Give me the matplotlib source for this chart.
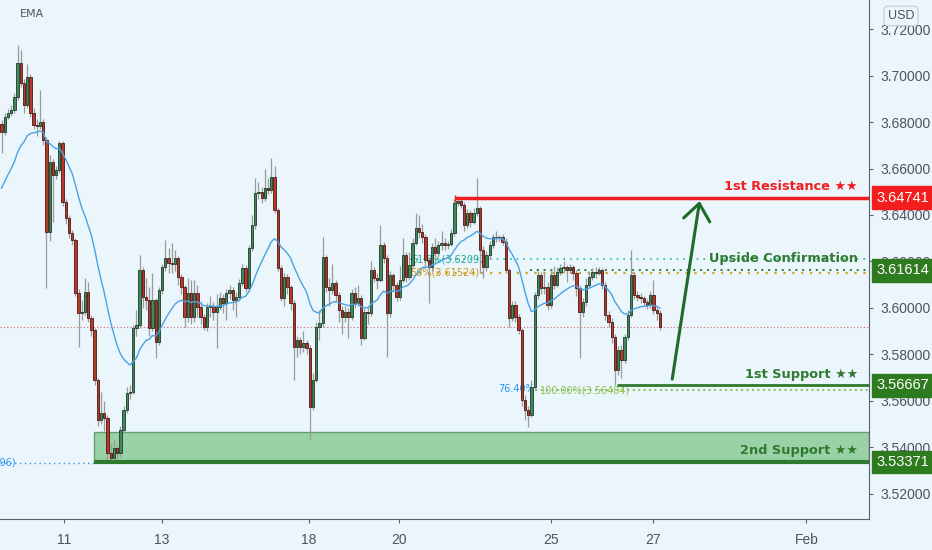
import matplotlib.pyplot as plt
from matplotlib.patches import Rectangle
from matplotlib.transforms import blended_transform_factory

# 2-hour candles (price in USD)
first_open = 3.6790
closes = [
    3.6757, 3.6822, 3.6839, 3.6852, 3.6908, 3.7054, 3.6968, 3.6873, 3.6994, 3.6839,
    3.6787, 3.6783, 3.6800, 3.6723, 3.6327, 3.6628, 3.6572, 3.6594, 3.6710, 3.6456,
    3.6387, 3.6323, 3.6292, 3.6065, 3.5978, 3.5983, 3.6069, 3.5957, 3.5905, 3.5690,
    3.5518, 3.5548, 3.5527, 3.5376, 3.5355, 3.5398, 3.5376, 3.5475, 3.5561, 3.5634,
    3.5639, 3.5914, 3.5927, 3.6163, 3.6047, 3.6034, 3.5914, 3.6034, 3.5854, 3.6077,
    3.6176, 3.6215, 3.6194, 3.6190, 3.6215, 3.6133, 3.6090, 3.5961, 3.6065, 3.5961,
    3.6065, 3.6004, 3.5961, 3.5918, 3.6004, 3.6010, 3.5983, 3.6004, 3.6043, 3.6022,
    3.6065, 3.6077, 3.6034, 3.6047, 3.6108, 3.6172, 3.6086, 3.6258, 3.6357, 3.6495,
    3.6500, 3.6473, 3.6516, 3.6507, 3.6563, 3.6421, 3.6172, 3.6043, 3.6133, 3.6090,
    3.6022, 3.5832, 3.5862, 3.5832, 3.5849, 3.5828, 3.5574, 3.5690, 3.5918, 3.5935,
    3.6219, 3.6090, 3.6077, 3.6108, 3.6056, 3.5991, 3.5961, 3.5983, 3.5961, 3.6065,
    3.6022, 3.6043, 3.5871, 3.5983, 3.5978, 3.6163, 3.6129, 3.6120, 3.6271, 3.6215,
    3.5978, 3.6142, 3.6099, 3.6047, 3.6120, 3.6228, 3.6133, 3.6185, 3.6280, 3.6344,
    3.6327, 3.6305, 3.6206, 3.6176, 3.6262, 3.6237, 3.6271, 3.6280, 3.6271, 3.6275,
    3.6323, 3.6452, 3.6460, 3.6443, 3.6357, 3.6409, 3.6370, 3.6409, 3.6430, 3.6249,
    3.6176, 3.6228, 3.6271, 3.6305, 3.6301, 3.6305, 3.6284, 3.6163, 3.5957, 3.6013,
    3.5961, 3.5905, 3.5604, 3.5561, 3.5540, 3.5660, 3.6056, 3.6142, 3.6086, 3.6090,
    3.6013, 3.6142, 3.6099, 3.6155, 3.6172, 3.6176, 3.6163, 3.6176, 3.6151, 3.6086,
    3.5983, 3.6026, 3.6099, 3.6133, 3.6155, 3.6151, 3.6163, 3.6099, 3.5970, 3.5940,
    3.5875, 3.5733, 3.5819, 3.5776, 3.5875, 3.5970, 3.6142, 3.6056, 3.6047, 3.6043,
    3.6026, 3.6013, 3.6056, 3.5991, 3.5978, 3.5918]
highs = [
    3.6810, 3.6838, 3.6858, 3.6875, 3.6925, 3.7131, 3.7110, 3.6985, 3.7050, 3.7005,
    3.6860, 3.6815, 3.6937, 3.6812, 3.6735, 3.6660, 3.6640, 3.6610, 3.6720, 3.6718,
    3.6470, 3.6400, 3.6335, 3.6300, 3.6080, 3.6035, 3.6130, 3.6110, 3.5970, 3.5915,
    3.5700, 3.5640, 3.5600, 3.5540, 3.5420, 3.5430, 3.5410, 3.5490, 3.5580, 3.5660,
    3.5670, 3.5925, 3.5990, 3.6228, 3.6175, 3.6130, 3.6090, 3.6150, 3.6045, 3.6090,
    3.6190, 3.6292, 3.6260, 3.6280, 3.6250, 3.6225, 3.6145, 3.6100, 3.6130, 3.6120,
    3.6120, 3.6100, 3.6030, 3.5975, 3.6020, 3.6050, 3.6025, 3.6060, 3.6070, 3.6060,
    3.6080, 3.6100, 3.6090, 3.6070, 3.6125, 3.6190, 3.6185, 3.6270, 3.6400, 3.6560,
    3.6540, 3.6520, 3.6600, 3.6560, 3.6645, 3.6610, 3.6430, 3.6185, 3.6150, 3.6145,
    3.6100, 3.6035, 3.5880, 3.5875, 3.5900, 3.5860, 3.5840, 3.5720, 3.5940, 3.5990,
    3.6305, 3.6230, 3.6130, 3.6190, 3.6120, 3.6070, 3.6010, 3.6010, 3.6000, 3.6080,
    3.6090, 3.6100, 3.6055, 3.6000, 3.6010, 3.6200, 3.6175, 3.6150, 3.6357, 3.6285,
    3.6230, 3.6160, 3.6150, 3.6110, 3.6180, 3.6300, 3.6240, 3.6240, 3.6300, 3.6410,
    3.6400, 3.6360, 3.6320, 3.6220, 3.6280, 3.6300, 3.6290, 3.6330, 3.6300, 3.6290,
    3.6340, 3.6470, 3.6475, 3.6475, 3.6455, 3.6425, 3.6420, 3.6430, 3.6560, 3.6440,
    3.6265, 3.6245, 3.6290, 3.6320, 3.6330, 3.6315, 3.6320, 3.6300, 3.6170, 3.6030,
    3.6030, 3.5975, 3.5915, 3.5625, 3.5580, 3.5690, 3.6070, 3.6160, 3.6155, 3.6150,
    3.6110, 3.6165, 3.6180, 3.6175, 3.6190, 3.6200, 3.6185, 3.6190, 3.6185, 3.6165,
    3.6100, 3.6045, 3.6130, 3.6160, 3.6170, 3.6175, 3.6175, 3.6170, 3.6110, 3.5985,
    3.5955, 3.5890, 3.5835, 3.5840, 3.5890, 3.5990, 3.6249, 3.6155, 3.6075, 3.6065,
    3.6050, 3.6040, 3.6075, 3.6120, 3.6010, 3.5990]
lows = [
    3.6665, 3.6745, 3.6812, 3.6826, 3.6840, 3.6895, 3.6950, 3.6840, 3.6860, 3.6820,
    3.6770, 3.6740, 3.6770, 3.6700, 3.6086, 3.6290, 3.6370, 3.6555, 3.6580, 3.6440,
    3.6360, 3.6300, 3.6270, 3.6050, 3.5830, 3.5950, 3.5970, 3.5940, 3.5880, 3.5670,
    3.5490, 3.5500, 3.5470, 3.5350, 3.5337, 3.5345, 3.5350, 3.5360, 3.5460, 3.5550,
    3.5610, 3.5630, 3.5880, 3.5915, 3.6000, 3.5990, 3.5880, 3.5900, 3.5785, 3.5840,
    3.6060, 3.6160, 3.6150, 3.6150, 3.6160, 3.6100, 3.6060, 3.5920, 3.5940, 3.5930,
    3.5940, 3.5960, 3.5930, 3.5905, 3.5900, 3.5960, 3.5950, 3.5828, 3.5990, 3.5980,
    3.5950, 3.6040, 3.5990, 3.5960, 3.6030, 3.6095, 3.6070, 3.6075, 3.6245, 3.6340,
    3.6470, 3.6450, 3.6460, 3.6490, 3.6495, 3.6410, 3.6160, 3.6030, 3.6010, 3.6060,
    3.5990, 3.5690, 3.5790, 3.5800, 3.5810, 3.5800, 3.5430, 3.5560, 3.5680, 3.5860,
    3.5920, 3.6070, 3.6010, 3.6060, 3.6030, 3.5940, 3.5890, 3.5940, 3.5870, 3.5950,
    3.6000, 3.6010, 3.5840, 3.5860, 3.5930, 3.5965, 3.6110, 3.6080, 3.6110, 3.6195,
    3.5789, 3.5960, 3.6070, 3.6030, 3.6035, 3.6110, 3.6110, 3.6120, 3.6170, 3.6270,
    3.6300, 3.6280, 3.6180, 3.6020, 3.6160, 3.6200, 3.6220, 3.6250, 3.6250, 3.6255,
    3.6265, 3.6310, 3.6440, 3.6430, 3.6330, 3.6345, 3.6350, 3.6360, 3.6395, 3.6150,
    3.6130, 3.6160, 3.6215, 3.6260, 3.6285, 3.6290, 3.6270, 3.6150, 3.5920, 3.5945,
    3.5940, 3.5890, 3.5580, 3.5520, 3.5488, 3.5530, 3.5650, 3.6040, 3.6060, 3.6060,
    3.5990, 3.6000, 3.6080, 3.6090, 3.6140, 3.6150, 3.6110, 3.6150, 3.6120, 3.6050,
    3.5785, 3.5960, 3.6010, 3.6085, 3.6120, 3.6130, 3.6140, 3.6080, 3.5950, 3.5920,
    3.5850, 3.5668, 3.5710, 3.5700, 3.5765, 3.5860, 3.5960, 3.6040, 3.6030, 3.6020,
    3.6010, 3.5995, 3.6000, 3.5975, 3.5950, 3.5905]

ema_seed = 3.6490
ema_span = 20

# key levels
resistance = 3.64741
upside_conf = 3.61614
fib_618 = 3.62097
fib_50 = 3.61524
support1 = 3.56667
fib_100 = 3.56484
support2 = 3.53371
zone_top = 3.54667
left_fib = 3.53296
last_price = 3.5918

price_ticks = [3.52, 3.54, 3.56, 3.58, 3.60, 3.62, 3.64, 3.66, 3.68, 3.70, 3.72]
date_labels = ["11", "13", "18", "20", "25", "27", "Feb"]
date_pos = [19.5, 50.0, 95.6, 123.8, 171.1, 202.8, 250.6]

bg = "#eaf5fc"
up_col = "#3f8a5c"
down_col = "#b8392b"
green = "#2e7a2e"
red = "#f21d1d"
txt = "#50535e"
axis_font = "Liberation Sans"

fig = plt.figure(figsize=(9.32, 5.5), dpi=100, facecolor=bg)
ax = fig.add_axes([0, 31 / 550, 869 / 932, 519 / 550], facecolor=bg)

x = list(range(len(closes)))
opens = [first_open] + closes[:-1]

# candles
ax.vlines(x, lows, highs, color="#9a9a9a", lw=0.9, zorder=3)
bottoms, heights, cols, edges = [], [], [], []
for o, c in zip(opens, closes):
    bottoms.append(min(o, c))
    heights.append(max(abs(c - o), 0.00018))
    cols.append(up_col if c >= o else down_col)
    edges.append("#1f3a28" if c >= o else "#4a1810")
ax.bar(x, heights, bottom=bottoms, width=0.72, color=cols, edgecolor=edges,
       linewidth=0.6, zorder=4)

# EMA
ema = []
e = ema_seed
a = 2 / (ema_span + 1)
for c in closes:
    e = e + a * (c - e)
    ema.append(e)
ax.plot(x, ema, color="#4ba3e3", lw=1.0, zorder=5)

x_end = 270.1
ax.set_xlim(-0.47, x_end)
ax.set_ylim(3.5092, 3.7325)

# current price
ax.hlines(last_price, -0.47, x_end, color="#e06666", lw=0.8, ls=(0, (1, 2)), zorder=2)

# 2nd support zone
ax.add_patch(Rectangle((28.8, support2), x_end - 28.8, zone_top - support2,
                       facecolor="#8dcb98", edgecolor="#4e9a58", lw=1, alpha=0.85, zorder=1))
ax.hlines(support2, 28.8, x_end, color=green, lw=3, zorder=6)
ax.hlines(left_fib + 0.00035, -0.47, 28.8, color="#2196f3", lw=1, ls=(0, (1, 2.5)), zorder=2)
ax.text(4.5, left_fib + 0.00035, "(3.53296)", color="#2196f3", fontsize=7,
        ha="right", va="center")

# fib levels
ax.hlines(fib_618, 127.2, x_end, color="#26b5a0", lw=1.2, ls=(0, (1, 3)), zorder=2)
ax.hlines(fib_50, 127.2, x_end, color="#d8a31a", lw=1.6, ls=(0, (1, 3)), zorder=2)
ax.hlines(upside_conf, 164.6, x_end, color=green, lw=1.4, ls=(0, (1, 2.5)), zorder=2)
ax.text(127.6, fib_618, "61.8%(3.62097)", color="#26a69a", fontsize=7, va="center", zorder=2)
ax.text(127.4, fib_50, "50%(3.61524)", color="#c99a14", fontsize=7, va="center", zorder=2)

ax.hlines(fib_100, 164.6, x_end, color="#7cb342", lw=1.3, ls=(0, (1, 2)), zorder=2)
ax.text(154.5, fib_100 + 0.0005, "76.40%", color="#2196f3", fontsize=7, va="center", zorder=2)
ax.text(167.5, fib_100 - 0.0003, "100.00%(3.56484)", color="#8bc34a", fontsize=7,
        va="center", zorder=2)

# resistance / support lines
ax.hlines(resistance, 141.2, x_end, color=red, lw=2.5, zorder=6)
ax.vlines(141.2, resistance - 0.0018, resistance + 0.0012, color=red, lw=1, zorder=6)
ax.hlines(support1, 191.6, x_end, color=green, lw=2, zorder=6)

lx = 266.6
label_size = 9.3
ax.text(lx, 3.6525, "1st Resistance ★★", color=red, fontsize=label_size, fontweight="bold",
        ha="right", va="center", zorder=7)
ax.text(lx, 3.6211, "Upside Confirmation", color=green, fontsize=label_size,
        fontweight="bold", ha="right", va="center", zorder=7)
ax.text(lx, 3.5712, "1st Support ★★", color=green, fontsize=label_size, fontweight="bold",
        ha="right", va="center", zorder=7)
ax.text(lx, 3.5385, "2nd Support ★★", color=green, fontsize=label_size, fontweight="bold",
        ha="right", va="center", zorder=7)

# arrow
ax.annotate("", xy=(217.5, 3.6472), xytext=(208.7, 3.5682),
            arrowprops=dict(arrowstyle="->,head_length=1.2,head_width=0.95",
                            color="#1e6b2a", lw=2.2), zorder=7)

# axes styling
for s in ["top", "left"]:
    ax.spines[s].set_visible(False)
for s in ["right", "bottom"]:
    ax.spines[s].set_color("#5d606b")
ax.yaxis.tick_right()
ax.set_yticks(price_ticks)
ax.set_yticklabels([f"{p:.5f}" for p in price_ticks], fontfamily=axis_font)
ax.set_xticks(date_pos)
ax.set_xticklabels(date_labels, fontfamily=axis_font)
ax.tick_params(axis="y", colors="#5d606b", labelcolor=txt, labelsize=10, length=3, pad=5)
ax.tick_params(axis="x", colors="#5d606b", labelcolor=txt, labelsize=10, length=3, pad=7)

# price tags on the axis
tr = blended_transform_factory(ax.transAxes, ax.transData)
for p, col in [(resistance, "#f21d1d"), (upside_conf, "#2e7a1f"),
               (support1, "#2e7a1f"), (support2, "#2e7a1f")]:
    ax.text(1.009, p, f"{p:.5f}", transform=tr, color="white", fontsize=10.5,
            fontfamily=axis_font, ha="left", va="center", clip_on=False, zorder=10,
            bbox=dict(boxstyle="square,pad=0.3", fc=col, ec=col))

fig.text(20 / 932, 1 - 14 / 550, "EMA", color="#555555", fontsize=8, va="center")
fig.text(901 / 932, 1 - 16 / 550, "USD", color=txt, fontsize=9, ha="center", va="center",
         fontfamily=axis_font,
         bbox=dict(boxstyle="round,pad=0.3", fc=bg, ec="#c5cdd3", lw=0.8))

fig.savefig("out.png", dpi=100, facecolor=bg)
